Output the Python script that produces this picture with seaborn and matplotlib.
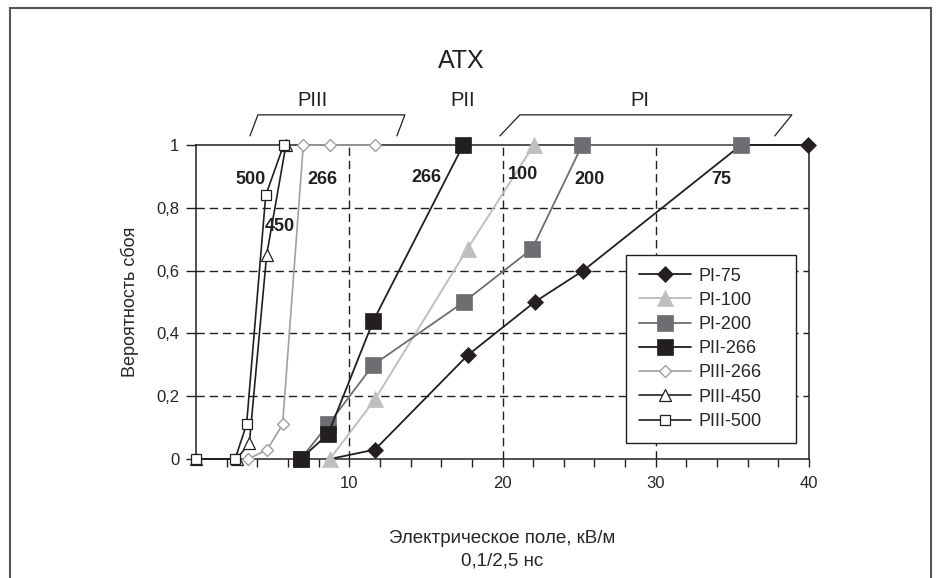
import matplotlib
matplotlib.use('Agg')
import matplotlib.pyplot as plt
from matplotlib.patches import Rectangle
from matplotlib.ticker import FixedLocator, FixedFormatter
import seaborn as sns

sns.set_style('white')
plt.rcParams['font.family'] = ['Liberation Sans', 'DejaVu Sans']

# ---------------- data ----------------
series_names = ["PI-75", "PI-100", "PI-200", "PII-266", "PIII-266", "PIII-450", "PIII-500"]

pi75_x = [8.74, 11.68, 17.72, 22.1, 25.27, 35.57, 39.95]
pi75_y = [0.0, 0.03, 0.33, 0.50, 0.60, 1.0, 1.0]

pi100_x = [8.74, 11.68, 17.72, 22.05]
pi100_y = [0.0, 0.19, 0.67, 1.0]

pi200_x = [6.83, 8.63, 11.57, 17.48, 21.94, 25.2, 35.57]
pi200_y = [0.0, 0.11, 0.30, 0.50, 0.67, 1.0, 1.0]

pii266_x = [6.83, 8.63, 11.57, 17.44]
pii266_y = [0.0, 0.08, 0.44, 1.0]

piii266_x = [3.41, 4.65, 5.65, 7.0, 8.74, 11.7]
piii266_y = [0.0, 0.03, 0.11, 1.0, 1.0, 1.0]

piii450_x = [0.0, 2.65, 3.48, 4.61, 5.87]
piii450_y = [0.0, 0.0, 0.05, 0.65, 1.0]

piii500_x = [0.0, 2.55, 3.3, 4.55, 5.72]
piii500_y = [0.0, 0.0, 0.11, 0.84, 1.0]

x_major_ticks = [10, 20, 30, 40]
x_tick_labels = ["10", "20", "30", "40"]
y_ticks = [0, 0.2, 0.4, 0.6, 0.8, 1.0]
y_tick_labels = ["0", "0,2", "0,4", "0,6", "0,8", "1"]

curve_labels = ["500", "266", "450", "266", "100", "200", "75"]
curve_label_x = [3.59, 8.26, 5.48, 15.05, 21.35, 25.7, 34.29]
curve_label_y = [0.891, 0.891, 0.740, 0.895, 0.905, 0.891, 0.891]

group_labels = ["PIII", "PII", "PI"]
group_label_x = [7.63, 17.42, 28.96]
group_label_y = 1.143

bracket_piii_x = [3.52, 4.04, 13.63, 13.11]
bracket_pi_x = [19.83, 21.13, 38.88, 37.77]
bracket_y = [1.029, 1.096, 1.096, 1.029]

# ---------------- styles ----------------
BLACK = '#231f20'
styles = {
    "PI-75": dict(color=BLACK, marker='D', markersize=7.8, markerfacecolor=BLACK,
                  markeredgecolor=BLACK, markeredgewidth=0.5, linewidth=1.3),
    "PI-100": dict(color='#bfbfbf', marker='^', markersize=11.5, markerfacecolor='#bfbfbf',
                   markeredgecolor='#bfbfbf', markeredgewidth=0.5, linewidth=1.4),
    "PI-200": dict(color='#6d6e71', marker='s', markersize=11, markerfacecolor='#6d6e71',
                   markeredgecolor='#6d6e71', markeredgewidth=0.5, linewidth=1.3),
    "PII-266": dict(color=BLACK, marker='s', markersize=11, markerfacecolor=BLACK,
                    markeredgecolor=BLACK, markeredgewidth=0.5, linewidth=1.3),
    "PIII-266": dict(color='#a0a0a0', marker='D', markersize=6.2, markerfacecolor='white',
                     markeredgecolor='#a0a0a0', markeredgewidth=1.0, linewidth=1.2),
    "PIII-450": dict(color=BLACK, marker='^', markersize=8.5, markerfacecolor='white',
                     markeredgecolor=BLACK, markeredgewidth=0.9, linewidth=1.2),
    "PIII-500": dict(color=BLACK, marker='s', markersize=7.5, markerfacecolor='white',
                     markeredgecolor=BLACK, markeredgewidth=0.9, linewidth=1.2),
}
series_data = {
    "PI-75": (pi75_x, pi75_y),
    "PI-100": (pi100_x, pi100_y),
    "PI-200": (pi200_x, pi200_y),
    "PII-266": (pii266_x, pii266_y),
    "PIII-266": (piii266_x, piii266_y),
    "PIII-450": (piii450_x, piii450_y),
    "PIII-500": (piii500_x, piii500_y),
}

fig = plt.figure(figsize=(9.36, 5.78), dpi=100)
fig.patch.set_facecolor('white')
ax = fig.add_axes([196 / 936, 1 - 459 / 578, (809 - 196) / 936, (459 - 145) / 578])

lines = {}
for i, name in enumerate(series_names):
    xs, ys = series_data[name]
    sns.lineplot(x=xs, y=ys, ax=ax, sort=False, estimator=None, label=name,
                 clip_on=False, zorder=3 + i, **styles[name])
    lines[name] = ax.lines[-1]

ax.set_xlim(0, 40)
ax.set_ylim(0, 1)

# ticks
ax.xaxis.set_major_locator(FixedLocator(x_major_ticks))
ax.xaxis.set_major_formatter(FixedFormatter(x_tick_labels))
ax.xaxis.set_minor_locator(FixedLocator([v for v in range(2, 40, 2) if v % 10 != 0]))
ax.yaxis.set_major_locator(FixedLocator(y_ticks))
ax.yaxis.set_major_formatter(FixedFormatter(y_tick_labels))
ax.tick_params(axis='x', which='both', direction='out', length=6, width=1.0,
               color=BLACK, labelsize=12, pad=6, bottom=True)
ax.tick_params(axis='y', which='major', direction='out', length=7, width=1.0,
               color=BLACK, labelsize=12, pad=5, left=True)

# grid
ax.set_axisbelow(True)
for gx in [10, 20, 30]:
    ax.axvline(gx, color=BLACK, lw=1.0, ls=(0, (6, 3.5)), zorder=1)
for gy in [0.2, 0.4, 0.6, 0.8]:
    ax.axhline(gy, color=BLACK, lw=1.0, ls=(0, (6, 3.5)), zorder=1)

for sp in ax.spines.values():
    sp.set_visible(True)
    sp.set_color(BLACK)
    sp.set_linewidth(1.1)

# labels
ax.set_xlabel("Электрическое поле, кВ/м\n0,1/2,5 нс", fontsize=13.5, linespacing=1.4)
ax.xaxis.set_label_coords(0.5, -0.226)
ax.set_ylabel("Вероятность сбоя", fontsize=13)
ax.yaxis.set_label_coords(-0.093, 0.5)

# legend
leg = ax.legend(loc='upper left', bbox_to_anchor=(0.7015, 0.048, 0.2775, 0.602),
                mode='expand', fontsize=13, frameon=True, fancybox=False,
                edgecolor=BLACK, framealpha=1, handlelength=2.9, handletextpad=0.4,
                labelspacing=0.4, borderpad=0.7, borderaxespad=0)
leg.get_frame().set_linewidth(1.0)
leg.set_zorder(20)

# hide markers that sit under other series (line still passes through)
lines["PI-75"].set_markevery(list(range(1, len(pi75_x))))

# curve annotations
for s, cx, cy in zip(curve_labels, curve_label_x, curve_label_y):
    ax.text(cx, cy, s, fontsize=13, fontweight='bold', ha='center', va='center',
            color=BLACK, zorder=25)

# group labels and brackets
for s, gx in zip(group_labels, group_label_x):
    ax.text(gx, group_label_y, s, fontsize=14.5, ha='center', va='center',
            color=BLACK, clip_on=False)
ax.plot(bracket_piii_x, bracket_y, color=BLACK, lw=0.9, clip_on=False)
ax.plot(bracket_pi_x, bracket_y, color=BLACK, lw=0.9, clip_on=False)

fig.text(461 / 936, 1 - 61 / 578, "ATX", fontsize=18, ha='center', va='center', color=BLACK)

# outer frame
fig.add_artist(Rectangle((9.5 / 936, -0.05), (930.5 - 9.5) / 936, 1.05 - 7.5 / 578,
                         transform=fig.transFigure, fill=False,
                         edgecolor='#555555', lw=1.5))

fig.savefig('out.png', dpi=100, facecolor='white')
